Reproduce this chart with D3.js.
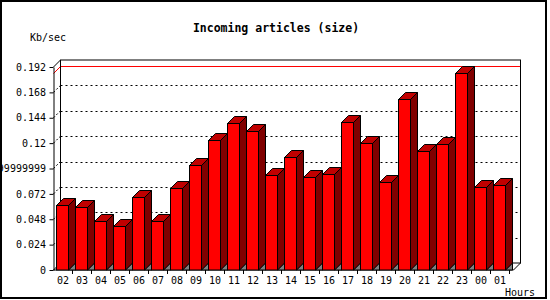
<!DOCTYPE html>
<html>
<head>
<meta charset="utf-8">
<script src="https://cdn.jsdelivr.net/npm/d3@7"></script>
<style>
  html, body { margin: 0; padding: 0; background: #fff; }
  svg { display: block; }
  text { font-family: "DejaVu Sans Mono", monospace; }
</style>
</head>
<body>
<svg id="chart" width="550" height="300"></svg>
<script>
const hours = ["02","03","04","05","06","07","08","09","10","11","12","13","14","15","16","17","18","19","20","21","22","23","00","01"];
const kbps  = [0.0612,0.0593,0.0461,0.0416,0.0690,0.0461,0.0776,0.0990,0.1230,0.1390,0.1315,0.0896,0.1066,0.0880,0.0908,0.1400,0.1198,0.0830,0.1617,0.1126,0.1192,0.1863,0.0785,0.0804];
const yTickValues = [0,0.024,0.048,0.072,0.096,0.12,0.144,0.168,0.192];
const yTickLabels = ["0","0.024","0.048","0.072","0.09599999999999999","0.12","0.144","0.168","0.192"];
const titleText = "Incoming articles (size)";
const yTitle = "Kb/sec";
const xTitle = "Hours";

(function () {
const svg = d3.select("#chart");
const D = 7;                 // 3D depth
const pL = 53.5, pR = 513.5, pT = 67, pB = 270;

const x = d3.scaleBand().domain(hours).range([pL, pL + 19 * hours.length]).padding(0);
const y = d3.scaleLinear().domain([0, 0.192]).range([pB, pT]);

// outer border
svg.append("rect").attr("x", 1).attr("y", 1).attr("width", 545).attr("height", 297)
  .attr("fill", "none").attr("stroke", "#000").attr("stroke-width", 2);

// titles
svg.append("text").attr("x", 276).attr("y", 32).attr("text-anchor", "middle")
  .attr("font-size", "11.5px").attr("font-weight", "bold").text(titleText);
svg.append("text").attr("x", 30).attr("y", 41).attr("font-size", "10px").text(yTitle);
svg.append("text").attr("x", 505).attr("y", 296).attr("font-size", "10px").text(xTitle);

// back wall grid (dotted)
const grid = svg.append("g");
yTickValues.slice(1, -1).forEach(v => {
  grid.append("line").attr("x1", pL + D).attr("x2", pR + D)
    .attr("y1", Math.round(y(v) - D) + 0.5).attr("y2", Math.round(y(v) - D) + 0.5)
    .attr("stroke", "#000").attr("stroke-dasharray", "2,3");
  grid.append("line").attr("x1", pL).attr("x2", pL + D)
    .attr("y1", y(v)).attr("y2", y(v) - D)
    .attr("stroke", "#000").attr("stroke-dasharray", "2,2");
});

// max line (red)
const maxV = d3.max(kbps);
const my = Math.round(y(maxV) - D) + 0.5;
svg.append("line").attr("x1", pL + D).attr("x2", pR + D).attr("y1", my).attr("y2", my)
  .attr("stroke", "#ff0000");
svg.append("line").attr("x1", pL).attr("x2", pL + D).attr("y1", my + D).attr("y2", my)
  .attr("stroke", "#ff0000");

// frame: back wall and 3D edges
const frame = svg.append("g").attr("stroke", "#000").attr("fill", "none");
frame.append("rect").attr("x", pL + D).attr("y", pT - D).attr("width", pR - pL).attr("height", pB - pT);
frame.append("line").attr("x1", pL).attr("y1", pT).attr("x2", pL + D).attr("y2", pT - D);
frame.append("line").attr("x1", pL).attr("y1", pB).attr("x2", pL + D).attr("y2", pB - D);
frame.append("line").attr("x1", pR).attr("y1", pB).attr("x2", pR + D).attr("y2", pB - D);
frame.append("line").attr("x1", pL).attr("y1", pB).attr("x2", pR).attr("y2", pB);

// bars
const bars = svg.append("g").attr("stroke", "#000").attr("stroke-width", 1);
hours.forEach((h, i) => {
  const x0 = x(h) + 3, w = 12, yt = Math.round(y(kbps[i])) + 0.5;
  const g = bars.append("g");
  g.append("path").attr("fill", "#808080")
    .attr("d", `M${x0 + w},${pB} L${x0 + w + D},${pB - D} L${x0 + w + D},${pB} Z`);
  g.append("path").attr("fill", "#800000")
    .attr("d", `M${x0 + w},${yt} L${x0 + w + D},${yt - D} L${x0 + w + D},${pB - D} L${x0 + w},${pB} Z`);
  g.append("path").attr("fill", "#c00000")
    .attr("d", `M${x0},${yt} L${x0 + D},${yt - D} L${x0 + w + D},${yt - D} L${x0 + w},${yt} Z`);
  g.append("rect").attr("fill", "#ff0000").attr("x", x0).attr("y", yt).attr("width", w).attr("height", pB - yt);
});

// y axis (front)
const yAxis = d3.axisLeft(y).tickValues(yTickValues)
  .tickFormat((d, i) => yTickLabels[i]).tickSize(4).tickPadding(3.5).tickSizeOuter(0);
const gy = svg.append("g").attr("transform", `translate(${pL},0)`).call(yAxis);
gy.select(".domain").attr("stroke", "#000");
gy.selectAll("line").attr("stroke", "#000");
gy.selectAll("text").attr("font-size", "10px").attr("font-family", "DejaVu Sans Mono").attr("fill", "#000");

// x axis (front)
const xAxis = d3.axisBottom(x).tickSize(0).tickPadding(7).tickSizeOuter(0);
const gx = svg.append("g").attr("transform", `translate(0,${pB})`).call(xAxis);
gx.select(".domain").remove();
gx.selectAll("text").attr("font-size", "10px").attr("font-family", "DejaVu Sans Mono").attr("fill", "#000");
hours.forEach(h => {
  const tx = Math.round(x(h) + x.bandwidth()) - 0.5;
  svg.append("line").attr("x1", tx).attr("x2", tx).attr("y1", pB).attr("y2", pB + 4).attr("stroke", "#000");
});
})();
</script>
</body>
</html>
